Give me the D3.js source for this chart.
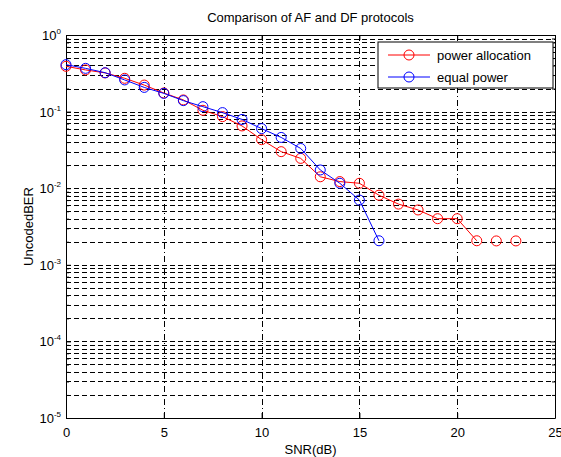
<!DOCTYPE html>
<html>
<head>
  <meta charset="utf-8">
  <title>Comparison of AF and DF protocols</title>
  <script src="https://d3js.org/d3.v7.min.js"></script>
  <style>
    body { margin: 0; background: #fff; }
    svg { font-family: "Liberation Sans", Arial, sans-serif; }
    .grid line { stroke: #000; stroke-width: 1; shape-rendering: crispEdges; }
  </style>
</head>
<body>
<svg id="chart"></svg>
<script>
  // data
  const snrPower = [0, 1, 2, 3, 4, 5, 6, 7, 8, 9, 10, 11, 12, 13, 14, 15, 16, 17, 18, 19, 20, 21, 22, 23];
  const berPower = [0.39, 0.35, 0.32, 0.272, 0.222, 0.175, 0.142, 0.104, 0.086, 0.065, 0.043, 0.030, 0.0245, 0.0141, 0.0122, 0.0116, 0.0081, 0.0062, 0.0052, 0.0040, 0.0040, 0.00206, 0.00205, 0.00205];
  const snrEqual = [0, 1, 2, 3, 4, 5, 6, 7, 8, 9, 10, 11, 12, 13, 14, 15, 16];
  const berEqual = [0.41, 0.367, 0.322, 0.259, 0.207, 0.173, 0.139, 0.116, 0.097, 0.079, 0.06, 0.046, 0.033, 0.0173, 0.0116, 0.0070, 0.00206];
  const xTicks = [0, 5, 10, 15, 20, 25];
  const yExponents = [0, -1, -2, -3, -4, -5];
  const seriesNames = ["power allocation", "equal power"];
  const seriesColors = ["#ff0000", "#0000ff"];

  const width = 561, height = 457;
  const margin = { left: 66, right: 6, top: 35, bottom: 39 };

  const svg = d3.select("#chart").attr("width", width).attr("height", height);

  const x = d3.scaleLinear().domain([0, 25]).range([margin.left, width - margin.right]);
  const y = d3.scaleLog().domain([1e-5, 1]).range([height - margin.bottom, margin.top]);

  // minor values for the log grid
  const minorVals = [];
  for (let e = -5; e < 0; e++) {
    for (let m = 1; m < 10; m++) minorVals.push(m * Math.pow(10, e));
  }
  minorVals.push(1);

  const grid = svg.append("g").attr("class", "grid");
  grid.selectAll("line.h").data(minorVals.filter(v => v > 1e-5 && v < 1)).enter()
    .append("line").attr("class", "h")
    .attr("x1", x(0)).attr("x2", x(25))
    .attr("y1", d => Math.round(y(d)) + 0.5).attr("y2", d => Math.round(y(d)) + 0.5)
    .attr("stroke-dasharray", "5,3");
  grid.selectAll("line.v").data(xTicks.slice(1, -1)).enter()
    .append("line").attr("class", "v")
    .attr("y1", y(1)).attr("y2", y(1e-5))
    .attr("x1", d => Math.round(x(d)) + 0.5).attr("x2", d => Math.round(x(d)) + 0.5)
    .attr("stroke-dasharray", "6,3,1,3");

  // axes: ticks inside, as in the original
  const axBottom = svg.append("g").attr("transform", `translate(0,${y(1e-5)})`)
    .call(d3.axisBottom(x).tickValues(xTicks).tickSizeInner(-5).tickSizeOuter(0).tickPadding(10));
  const axTop = svg.append("g").attr("transform", `translate(0,${y(1)})`)
    .call(d3.axisTop(x).tickValues(xTicks).tickSizeInner(-5).tickSizeOuter(0).tickFormat(""));
  const axLeft = svg.append("g").attr("transform", `translate(${x(0)},0)`)
    .call(d3.axisLeft(y).tickValues(minorVals).tickSizeOuter(0)
      .tickSizeInner(-3).tickFormat(""));
  const axRight = svg.append("g").attr("transform", `translate(${x(25)},0)`)
    .call(d3.axisRight(y).tickValues(minorVals).tickSizeOuter(0)
      .tickSizeInner(-3).tickFormat(""));
  [axLeft, axRight].forEach(g => {
    g.selectAll(".tick line").filter(d => Math.abs(Math.log10(d) % 1) < 1e-9)
      .attr("x2", function () { return +d3.select(this).attr("x2") * 5 / 3; });
  });
  [axBottom, axTop, axLeft, axRight].forEach(g => {
    g.select(".domain").attr("stroke", "#000");
    g.selectAll(".tick line").attr("stroke", "#000");
  });
  axBottom.selectAll(".tick text").attr("font-size", 13).attr("fill", "#000")
    .attr("font-family", "Liberation Sans, Arial, sans-serif");

  // y labels 10^n
  const yLab = svg.append("g");
  yExponents.forEach(e => {
    const t = yLab.append("text")
      .attr("x", x(0) - 5).attr("y", y(Math.pow(10, e)) + 5)
      .attr("text-anchor", "end").attr("font-size", 13).attr("fill", "#000");
    t.append("tspan").text("10");
    t.append("tspan").attr("dy", -6).attr("font-size", 8).text(e);
  });

  // series
  const line = d3.line().x(d => x(d[0])).y(d => y(d[1]));
  const series = [
    { pts: d3.zip(snrPower, berPower), lineEnd: 22 },
    { pts: d3.zip(snrEqual, berEqual), lineEnd: snrEqual.length }
  ];
  series.forEach((s, i) => {
    svg.append("path").datum(s.pts.slice(0, s.lineEnd))
      .attr("d", line).attr("fill", "none")
      .attr("stroke", seriesColors[i]).attr("stroke-width", 1);
    svg.selectAll(null).data(s.pts).enter().append("circle")
      .attr("cx", d => x(d[0])).attr("cy", d => y(d[1])).attr("r", 5)
      .attr("fill", "none").attr("stroke", seriesColors[i]).attr("stroke-width", 1);
  });

  // titles
  svg.append("text").attr("x", (x(0) + x(25)) / 2).attr("y", 22)
    .attr("text-anchor", "middle").attr("font-size", 13)
    .text("Comparison of AF and DF protocols");
  svg.append("text").attr("x", (x(0) + x(25)) / 2).attr("y", 454)
    .attr("text-anchor", "middle").attr("font-size", 13).text("SNR(dB)");
  svg.append("text")
    .attr("transform", `translate(33,${(y(1) + y(1e-5)) / 2}) rotate(-90)`)
    .attr("text-anchor", "middle").attr("font-size", 13).text("UncodedBER");

  // legend
  const lg = svg.append("g").attr("transform", "translate(378,42)");
  lg.append("rect").attr("width", 175).attr("height", 46)
    .attr("fill", "#fff").attr("stroke", "#000");
  seriesNames.forEach((n, i) => {
    const yy = 13 + i * 22;
    lg.append("line").attr("x1", 10).attr("x2", 52).attr("y1", yy).attr("y2", yy)
      .attr("stroke", seriesColors[i]);
    lg.append("circle").attr("cx", 31).attr("cy", yy).attr("r", 5)
      .attr("fill", "none").attr("stroke", seriesColors[i]);
    lg.append("text").attr("x", 59).attr("y", yy + 5).attr("font-size", 13).text(n);
  });
</script>
</body>
</html>
